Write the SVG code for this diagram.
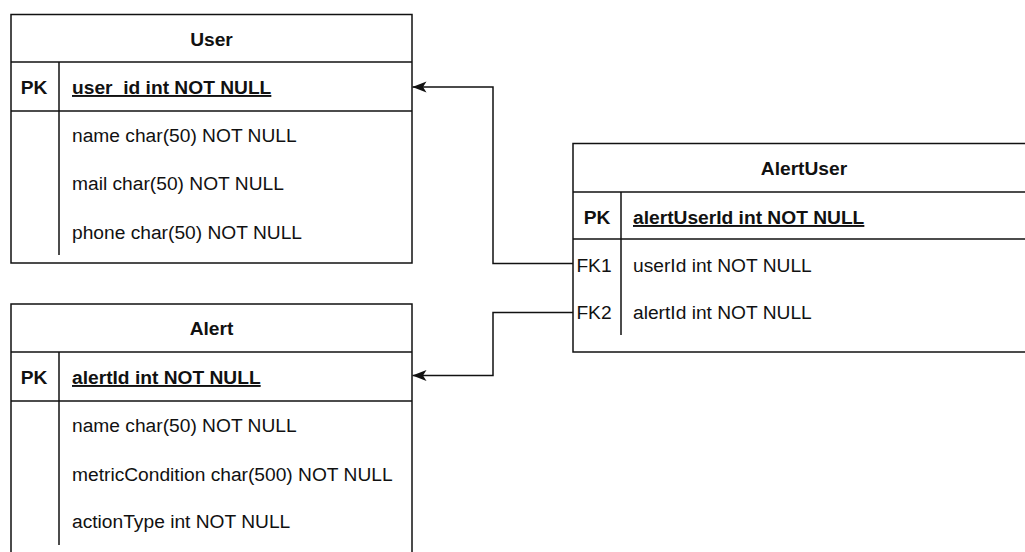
<svg xmlns="http://www.w3.org/2000/svg" width="1025" height="552" viewBox="0 0 1025 552">
  <style>
    text { font-family: "Liberation Sans", Arial, Helvetica, sans-serif; font-size: 19.2px; fill: #111; }
    .title { font-weight: bold; text-anchor: middle; }
    .key { font-weight: bold; text-anchor: middle; }
    .fk { text-anchor: middle; }
    .pkf { font-weight: bold; text-decoration: underline; }
    .box { fill: #fff; stroke: #111; stroke-width: 1.5; }
    .ln { fill: none; stroke: #111; stroke-width: 1.5; }
    .edge { fill: none; stroke: #111; stroke-width: 1.5; }
  </style>
  <defs>
    <marker id="arrow" viewBox="0 0 14 12" refX="14" refY="6" markerWidth="14" markerHeight="12" markerUnits="userSpaceOnUse" orient="auto">
      <path d="M0,0.5 L14,6 L0,11.5 L3.5,6 Z" fill="#111"/>
    </marker>
  </defs>
  <rect width="1025" height="552" fill="#fff"/>

  <!-- User table -->
  <g id="user">
    <rect class="box" x="11" y="14.5" width="401" height="248.5"/>
    <line class="ln" x1="11" y1="62" x2="412" y2="62"/>
    <line class="ln" x1="11" y1="111" x2="412" y2="111"/>
    <line class="ln" x1="59" y1="62" x2="59" y2="255"/>
    <text class="title" x="211.5" y="46">User</text>
    <text class="key" x="34" y="94">PK</text>
    <text class="pkf" x="72" y="94">user_id int NOT NULL</text>
    <text x="72" y="141.5">name char(50) NOT NULL</text>
    <text x="72" y="190">mail char(50) NOT NULL</text>
    <text x="72" y="238.5">phone char(50) NOT NULL</text>
  </g>

  <!-- Alert table -->
  <g id="alert">
    <rect class="box" x="11" y="304" width="401" height="270"/>
    <line class="ln" x1="11" y1="352" x2="412" y2="352"/>
    <line class="ln" x1="11" y1="401" x2="412" y2="401"/>
    <line class="ln" x1="59" y1="352" x2="59" y2="545"/>
    <text class="title" x="211.5" y="335">Alert</text>
    <text class="key" x="34" y="384">PK</text>
    <text class="pkf" x="72" y="384">alertId int NOT NULL</text>
    <text x="72" y="432">name char(50) NOT NULL</text>
    <text x="72" y="480.5">metricCondition char(500) NOT NULL</text>
    <text x="72" y="527.5">actionType int NOT NULL</text>
  </g>

  <!-- AlertUser table -->
  <g id="alertuser">
    <rect class="box" x="573" y="143.5" width="464" height="208.5"/>
    <line class="ln" x1="573" y1="192" x2="1037" y2="192"/>
    <line class="ln" x1="573" y1="239" x2="1037" y2="239"/>
    <line class="ln" x1="621" y1="192" x2="621" y2="335"/>
    <text class="title" x="804" y="175">AlertUser</text>
    <text class="key" x="597" y="224">PK</text>
    <text class="pkf" x="633" y="224">alertUserId int NOT NULL</text>
    <text class="fk" x="594" y="271.5">FK1</text>
    <text x="633" y="271.5">userId int NOT NULL</text>
    <text class="fk" x="594" y="319">FK2</text>
    <text x="633" y="319">alertId int NOT NULL</text>
  </g>

  <!-- Foreign key relations -->
  <g id="connectors">
    <path class="edge" d="M573,263.5 H493 V87 H412.5" marker-end="url(#arrow)"/>
    <path class="edge" d="M573,312.5 H493 V375.5 H412.5" marker-end="url(#arrow)"/>
  </g>
</svg>
